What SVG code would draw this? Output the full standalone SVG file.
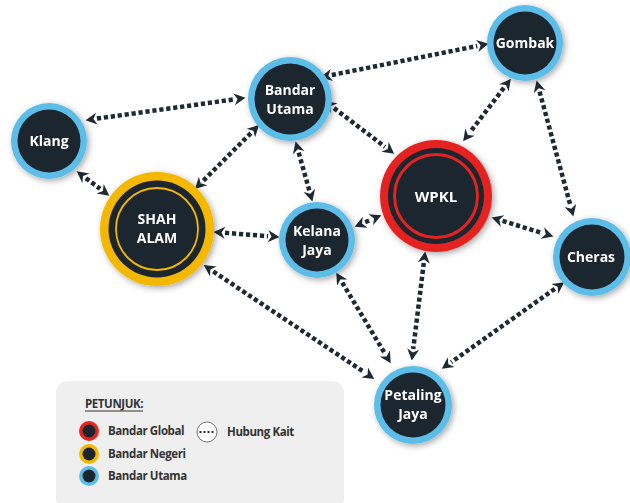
<svg xmlns="http://www.w3.org/2000/svg" width="630" height="503" viewBox="0 0 630 503">
<defs>
<style>
.lbl{font-family:"Open Sans","Liberation Sans",sans-serif;font-weight:700;font-size:14px;fill:#ffffff;text-anchor:middle}
.leg{font-family:"Open Sans","Liberation Sans",sans-serif;font-weight:700;font-size:11.5px;fill:#333333;letter-spacing:-0.4px}
.con{fill:none;stroke:#1e2a33;stroke-width:4.5;stroke-dasharray:4.2 2.8;marker-start:url(#ah);marker-end:url(#ah)}
.blue{fill:#5cbde8}
.core{fill:#1c252d}
</style>
<marker id="ah" viewBox="0 -7 13 14" refX="0" refY="0" markerWidth="13" markerHeight="14" markerUnits="userSpaceOnUse" orient="auto-start-reverse">
<path d="M0,-6 L11.5,0 L0,6 L3.5,0 z" fill="#1e2a33"/>
</marker>
<filter id="sh" x="-30%" y="-30%" width="160%" height="160%">
<feDropShadow dx="2" dy="2" stdDeviation="3" flood-color="#000" flood-opacity="0.35"/>
</filter>
</defs>
<rect width="630" height="503" fill="#ffffff"/>

<g id="legend">
<rect x="56" y="381" width="288" height="130" rx="12" fill="#efefef"/>
<text class="leg" x="85" y="408">PETUNJUK:</text>
<line x1="85" y1="411" x2="143" y2="411" stroke="#333" stroke-width="1"/>
<circle cx="89" cy="431" r="10" fill="#e52421"/><circle cx="89" cy="431" r="6.5" class="core"/>
<text class="leg" x="108" y="435">Bandar Global</text>
<circle cx="89" cy="454" r="10" fill="#f5b800"/><circle cx="89" cy="454" r="6.5" class="core"/>
<text class="leg" x="108" y="458">Bandar Negeri</text>
<circle cx="89" cy="476" r="10" class="blue"/><circle cx="89" cy="476" r="6.5" class="core"/>
<text class="leg" x="108" y="480">Bandar Utama</text>
<circle cx="207" cy="432" r="10" fill="#ffffff" stroke="#777" stroke-width="1"/>
<g fill="#1e2a33"><rect x="199.5" y="431" width="2" height="2"/><rect x="203.5" y="431" width="2" height="2"/><rect x="207.5" y="431" width="2" height="2"/><rect x="211.5" y="431" width="2" height="2"/></g>
<text class="leg" x="227" y="436">Hubung Kait</text>
</g>

<g id="connectors">
<line class="con" x1="96.9" y1="118.6" x2="234.1" y2="99.4"/>
<line class="con" x1="85.9" y1="178.2" x2="100.1" y2="188.8"/>
<line class="con" x1="250.9" y1="133.1" x2="203.1" y2="180.9"/>
<line class="con" x1="298.7" y1="152.6" x2="309.3" y2="190.4"/>
<line class="con" x1="331.8" y1="75.0" x2="477.2" y2="46.0"/>
<line class="con" x1="334.0" y1="108.1" x2="385.0" y2="146.9"/>
<line class="con" x1="503.9" y1="87.9" x2="470.1" y2="132.1"/>
<line class="con" x1="539.6" y1="91.7" x2="570.4" y2="205.4"/>
<line class="con" x1="225" y1="232.8" x2="268" y2="236.2"/>
<line class="con" x1="365.2" y1="222.2" x2="370.8" y2="219.8"/>
<line class="con" x1="502.6" y1="220.9" x2="542.4" y2="233.1"/>
<line class="con" x1="342.2" y1="282.6" x2="384.8" y2="353.4"/>
<line class="con" x1="423.8" y1="262.9" x2="413.2" y2="349.1"/>
<line class="con" x1="213.3" y1="271.5" x2="364.7" y2="372.5"/>
<line class="con" x1="554.8" y1="288.8" x2="451.2" y2="362.2"/>
</g>

<g id="klang" filter="url(#sh)">
<circle cx="49" cy="141" r="38" class="blue"/><circle cx="49" cy="141" r="31.5" class="core"/>
<text class="lbl" x="49" y="146">Klang</text>
</g>
<g id="bandar-utama" filter="url(#sh)">
<circle cx="290" cy="99" r="42" class="blue"/><circle cx="290" cy="99" r="35.5" class="core"/>
<text class="lbl" x="290" y="95">Bandar</text>
<text class="lbl" x="290" y="114">Utama</text>
</g>
<g id="gombak" filter="url(#sh)">
<circle cx="525" cy="43" r="38" class="blue"/><circle cx="525" cy="43" r="31.5" class="core"/>
<text class="lbl" x="525" y="48">Gombak</text>
</g>
<g id="wpkl" filter="url(#sh)">
<circle cx="436" cy="196" r="56" fill="#e52421"/><circle cx="436" cy="196" r="48" class="core"/>
<circle cx="436" cy="196" r="41.5" fill="none" stroke="#e52421" stroke-width="3"/>
<text class="lbl" x="436" y="202" style="font-size:15px">WPKL</text>
</g>
<g id="shah-alam" filter="url(#sh)">
<circle cx="157" cy="229" r="57" fill="#f5b800"/><circle cx="157" cy="229" r="48.5" class="core"/>
<circle cx="157" cy="229" r="41" fill="none" stroke="#f5b800" stroke-width="1.8"/>
<text class="lbl" x="157" y="224">SHAH</text>
<text class="lbl" x="157" y="243">ALAM</text>
</g>
<g id="kelana-jaya" filter="url(#sh)">
<circle cx="317" cy="240" r="38" class="blue"/><circle cx="317" cy="240" r="31.5" class="core"/>
<text class="lbl" x="317" y="236">Kelana</text>
<text class="lbl" x="317" y="255">Jaya</text>
</g>
<g id="cheras" filter="url(#sh)">
<circle cx="592" cy="257" r="39" class="blue"/><circle cx="592" cy="257" r="32.5" class="core"/>
<text class="lbl" x="591" y="262">Cheras</text>
</g>
<g id="petaling-jaya" filter="url(#sh)">
<circle cx="413" cy="405" r="39" class="blue"/><circle cx="413" cy="405" r="32.5" class="core"/>
<text class="lbl" x="413" y="400">Petaling</text>
<text class="lbl" x="413" y="419">Jaya</text>
</g>
</svg>
